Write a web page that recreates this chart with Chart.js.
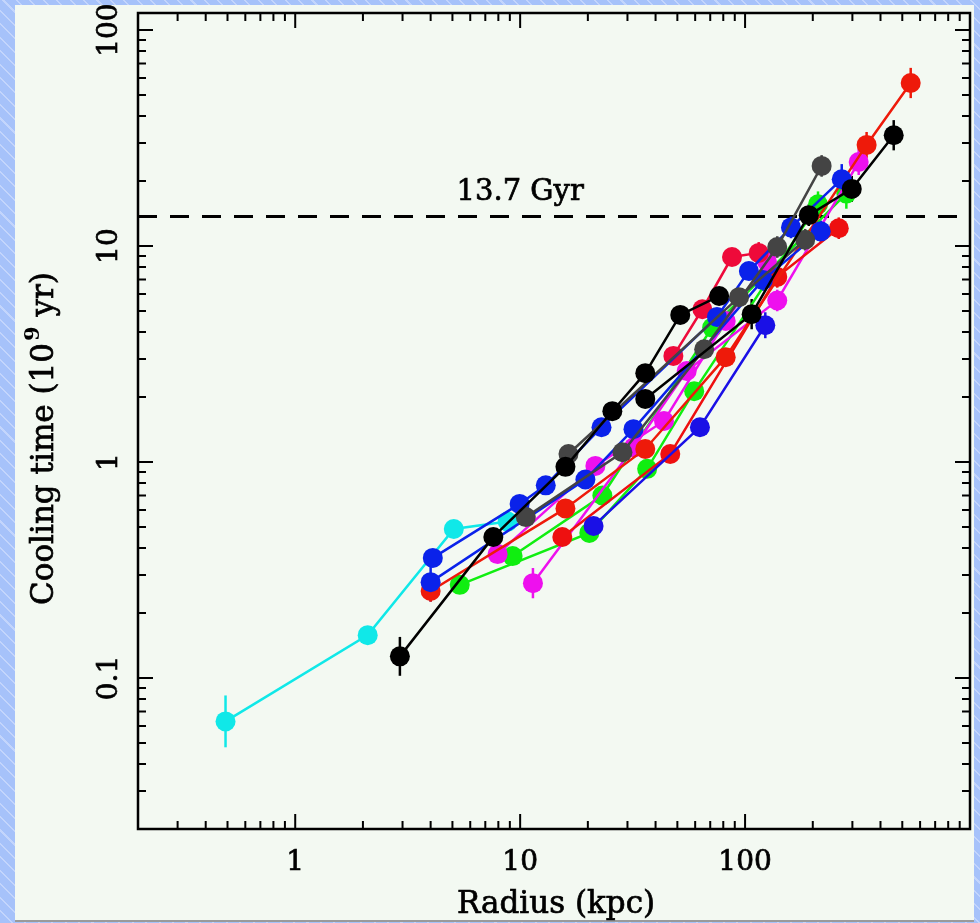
<!DOCTYPE html>
<html>
<head>
<meta charset="utf-8">
<script src="https://cdn.jsdelivr.net/npm/chart.js@4.4.1/dist/chart.umd.min.js"></script>
<style>
  html, body { margin: 0; padding: 0; }
  body {
    width: 980px; height: 923px; overflow: hidden; position: relative;
    background: #a8c4fb repeating-linear-gradient(45deg, #a6c2fa 0px, #a6c2fa 8px, #c3d5fc 8px, #c3d5fc 9.5px);
  }
  #panel {
    position: absolute; left: 15px; top: 5px; width: 959px; height: 915px;
    background: #f3f9f2; border-bottom: 2px solid #9a9a9a;
  }
  #chart { position: absolute; left: 0; top: 0; }
</style>
</head>
<body>
<div id="panel"></div>
<canvas id="chart" width="980" height="923"></canvas>
<script>
// radius (kpc) / cooling time (Gyr) / error (dex) for each profile
const cyanR = [0.49, 2.1, 5.07, 8.8];
const cyanT = [0.063, 0.158, 0.49, 0.53];
const cyanE = [0.12, 0.04, 0.03, 0.03];

const black1R = [2.92, 7.6, 15.9, 25.7, 36, 51.5, 76.7];
const black1T = [0.126, 0.45, 0.95, 1.72, 2.58, 4.8, 5.87];
const black1E = [0.09, 0.04, 0.03, 0.03, 0.03, 0.04, 0.04];

const black2R = [36, 107, 192, 298, 458];
const black2T = [1.96, 4.84, 13.9, 18.4, 32.6];
const black2E = [0.03, 0.07, 0.05, 0.06, 0.07];

const gray1R = [10.6, 28.5, 65.8, 139, 219];
const gray1T = [0.556, 1.11, 3.33, 9.9, 23.5];
const gray1E = [0.03, 0.03, 0.04, 0.05, 0.05];

const gray2R = [16.4, 94, 185];
const gray2T = [1.09, 5.8, 10.7];
const gray2E = [0.03, 0.04, 0.05];

const blue1R = [4.09, 9.95, 13, 23, 75, 104, 160, 269];
const blue1T = [0.36, 0.64, 0.78, 1.45, 4.7, 7.66, 12.2, 20.4];
const blue1E = [0.04, 0.03, 0.03, 0.03, 0.04, 0.04, 0.05, 0.07];

const blue2R = [4.0, 19.5, 31.9, 120, 217];
const blue2T = [0.278, 0.83, 1.42, 6.96, 11.7];
const blue2E = [0.09, 0.03, 0.03, 0.05, 0.05];

const blue3R = [21.2, 63, 123];
const blue3T = [0.506, 1.45, 4.3];
const blue3E = [0.03, 0.04, 0.06];

const red1R = [4.0, 15.9, 36, 82, 347, 545];
const red1T = [0.253, 0.61, 1.15, 3.06, 29.4, 56.9];
const red1E = [0.05, 0.03, 0.03, 0.04, 0.06, 0.07];

const red2R = [15.4, 46.5, 139, 261];
const red2T = [0.45, 1.09, 7.2, 12.1];
const red2E = [0.03, 0.03, 0.05, 0.05];

const red3R = [48, 64.6, 87.5, 115];
const red3T = [3.1, 5.1, 8.9, 9.3];
const red3E = [0.03, 0.04, 0.04, 0.05];

const green1R = [5.39, 20.3, 36.7, 59.4, 211];
const green1T = [0.27, 0.47, 0.93, 2.13, 15.6];
const green1E = [0.04, 0.03, 0.03, 0.04, 0.06];

const green2R = [9.26, 23.2, 71.4, 282];
const green2T = [0.367, 0.70, 4.2, 17.5];
const green2E = [0.03, 0.03, 0.04, 0.07];

const mag1R = [7.94, 21.6, 43.6, 82, 125];
const mag1T = [0.375, 0.96, 1.55, 4.5, 8.5];
const mag1E = [0.03, 0.03, 0.03, 0.04, 0.05];

const mag2R = [11.4, 32, 55, 139, 320];
const mag2T = [0.275, 1.17, 2.64, 5.6, 24.5];
const mag2E = [0.07, 0.03, 0.04, 0.05, 0.06];

const hubbleTime = 13.7;
const xTicks = [1, 10, 100];
const yTicks = [0.1, 1, 10, 100];

const series = [
  { c: '#000000', r: black1R, t: black1T, e: black1E },
  { c: '#000000', r: black2R, t: black2T, e: black2E },
  { c: '#444444', r: gray1R, t: gray1T, e: gray1E },
  { c: '#444444', r: gray2R, t: gray2T, e: gray2E },
  { c: '#0a22ea', r: blue1R, t: blue1T, e: blue1E },
  { c: '#0a22ea', r: blue2R, t: blue2T, e: blue2E },
  { c: '#1a10e6', r: blue3R, t: blue3T, e: blue3E },
  { c: '#ee1a0a', r: red1R, t: red1T, e: red1E },
  { c: '#ee1010', r: red2R, t: red2T, e: red2E },
  { c: '#ee0a3a', r: red3R, t: red3T, e: red3E },
  { c: '#ee10ee', r: mag1R, t: mag1T, e: mag1E },
  { c: '#ee10ee', r: mag2R, t: mag2T, e: mag2E },
  { c: '#10ee10', r: green1R, t: green1T, e: green1E },
  { c: '#10ee10', r: green2R, t: green2T, e: green2E },
  { c: '#10e8e8', r: cyanR, t: cyanT, e: cyanE }
];

const FONT = '"DejaVu Serif", serif';

// filled text with a thin outline, a bit heavier than regular
function label(ctx, txt, x, y) {
  ctx.fillText(txt, x, y);
  ctx.strokeText(txt, x, y);
}

const frame = {
  id: 'frame',
  beforeDatasetsDraw(chart) {
    const { ctx, chartArea: a, scales: { x, y } } = chart;
    // 13.7 Gyr line
    const yh = y.getPixelForValue(hubbleTime);
    ctx.save();
    ctx.strokeStyle = '#000';
    ctx.lineWidth = 3;
    ctx.setLineDash([19, 13]);
    ctx.beginPath();
    ctx.moveTo(a.left, yh);
    ctx.lineTo(a.right, yh);
    ctx.stroke();
    ctx.setLineDash([]);
    ctx.fillStyle = '#000';
    ctx.lineWidth = 0.7;
    ctx.font = '29px ' + FONT;
    ctx.textAlign = 'center';
    label(ctx, '13.7 Gyr', x.getPixelForValue(10), yh - 17);
    // error bars
    ctx.lineWidth = 2.5;
    series.forEach(s => {
      ctx.strokeStyle = s.c;
      s.r.forEach((r, i) => {
        const px = x.getPixelForValue(r);
        const f = Math.pow(10, s.e[i]);
        ctx.beginPath();
        ctx.moveTo(px, y.getPixelForValue(s.t[i] * f));
        ctx.lineTo(px, y.getPixelForValue(s.t[i] / f));
        ctx.stroke();
      });
    });
    ctx.restore();
  },
  afterDraw(chart) {
    const { ctx, chartArea: a, scales: { x, y } } = chart;
    ctx.save();
    ctx.strokeStyle = '#000';
    ctx.fillStyle = '#000';
    ctx.lineWidth = 2.5;
    ctx.strokeRect(a.left, a.top, a.right - a.left, a.bottom - a.top);
    ctx.lineWidth = 2;
    ctx.beginPath();
    for (let d = 0.01; d <= 1000; d *= 10) {
      for (let k = 1; k < 10; k++) {
        const v = k * d;
        const len = k === 1 ? 15 : 8;
        if (v >= x.min && v <= x.max) {
          const px = x.getPixelForValue(v);
          ctx.moveTo(px, a.bottom); ctx.lineTo(px, a.bottom - len);
          ctx.moveTo(px, a.top); ctx.lineTo(px, a.top + len);
        }
        if (v >= y.min && v <= y.max) {
          const py = y.getPixelForValue(v);
          ctx.moveTo(a.left, py); ctx.lineTo(a.left + len, py);
          ctx.moveTo(a.right, py); ctx.lineTo(a.right - len, py);
        }
      }
    }
    ctx.stroke();

    ctx.lineWidth = 0.7;
    ctx.font = '28px ' + FONT;
    ctx.textAlign = 'center';
    xTicks.forEach(v => label(ctx, String(v), x.getPixelForValue(v), a.bottom + 41));
    yTicks.forEach(v => {
      ctx.save();
      ctx.translate(a.left - 21, y.getPixelForValue(v));
      ctx.rotate(-Math.PI / 2);
      label(ctx, String(v), 0, 0);
      ctx.restore();
    });

    ctx.font = '31px ' + FONT;
    label(ctx, 'Radius (kpc)', 556, 913);

    ctx.save();
    ctx.translate(53, 605);
    ctx.rotate(-Math.PI / 2);
    ctx.textAlign = 'left';
    const part1 = 'Cooling time (10';
    label(ctx, part1, 0, 0);
    let w = ctx.measureText(part1).width;
    ctx.font = 'bold 21px ' + FONT;
    ctx.fillText('9', w + 2, -14);
    w += ctx.measureText('9').width + 2;
    ctx.font = '31px ' + FONT;
    label(ctx, ' yr)', w, 0);
    ctx.restore();
    ctx.restore();
  }
};

const datasets = series.map(s => ({
  data: s.r.map((r, i) => ({ x: r, y: s.t[i] })),
  showLine: true,
  borderColor: s.c,
  backgroundColor: s.c,
  borderWidth: 2.5,
  pointRadius: 10,
  pointBorderWidth: 0,
  pointHoverRadius: 10
}));

new Chart(document.getElementById('chart'), {
  type: 'scatter',
  data: { datasets },
  options: {
    responsive: false,
    animation: false,
    devicePixelRatio: 1,
    layout: { padding: { left: 138, top: 13, right: 6, bottom: 94 } },
    plugins: { legend: { display: false }, tooltip: { enabled: false } },
    scales: {
      x: {
        type: 'logarithmic', min: 0.2, max: 1000,
        ticks: { display: false }, grid: { display: false, drawTicks: false },
        border: { display: false },
        afterFit(s) { s.height = 0; }
      },
      y: {
        type: 'logarithmic', min: 0.02, max: 120,
        ticks: { display: false }, grid: { display: false, drawTicks: false },
        border: { display: false },
        afterFit(s) { s.width = 0; }
      }
    }
  },
  plugins: [frame]
});
</script>
</body>
</html>
